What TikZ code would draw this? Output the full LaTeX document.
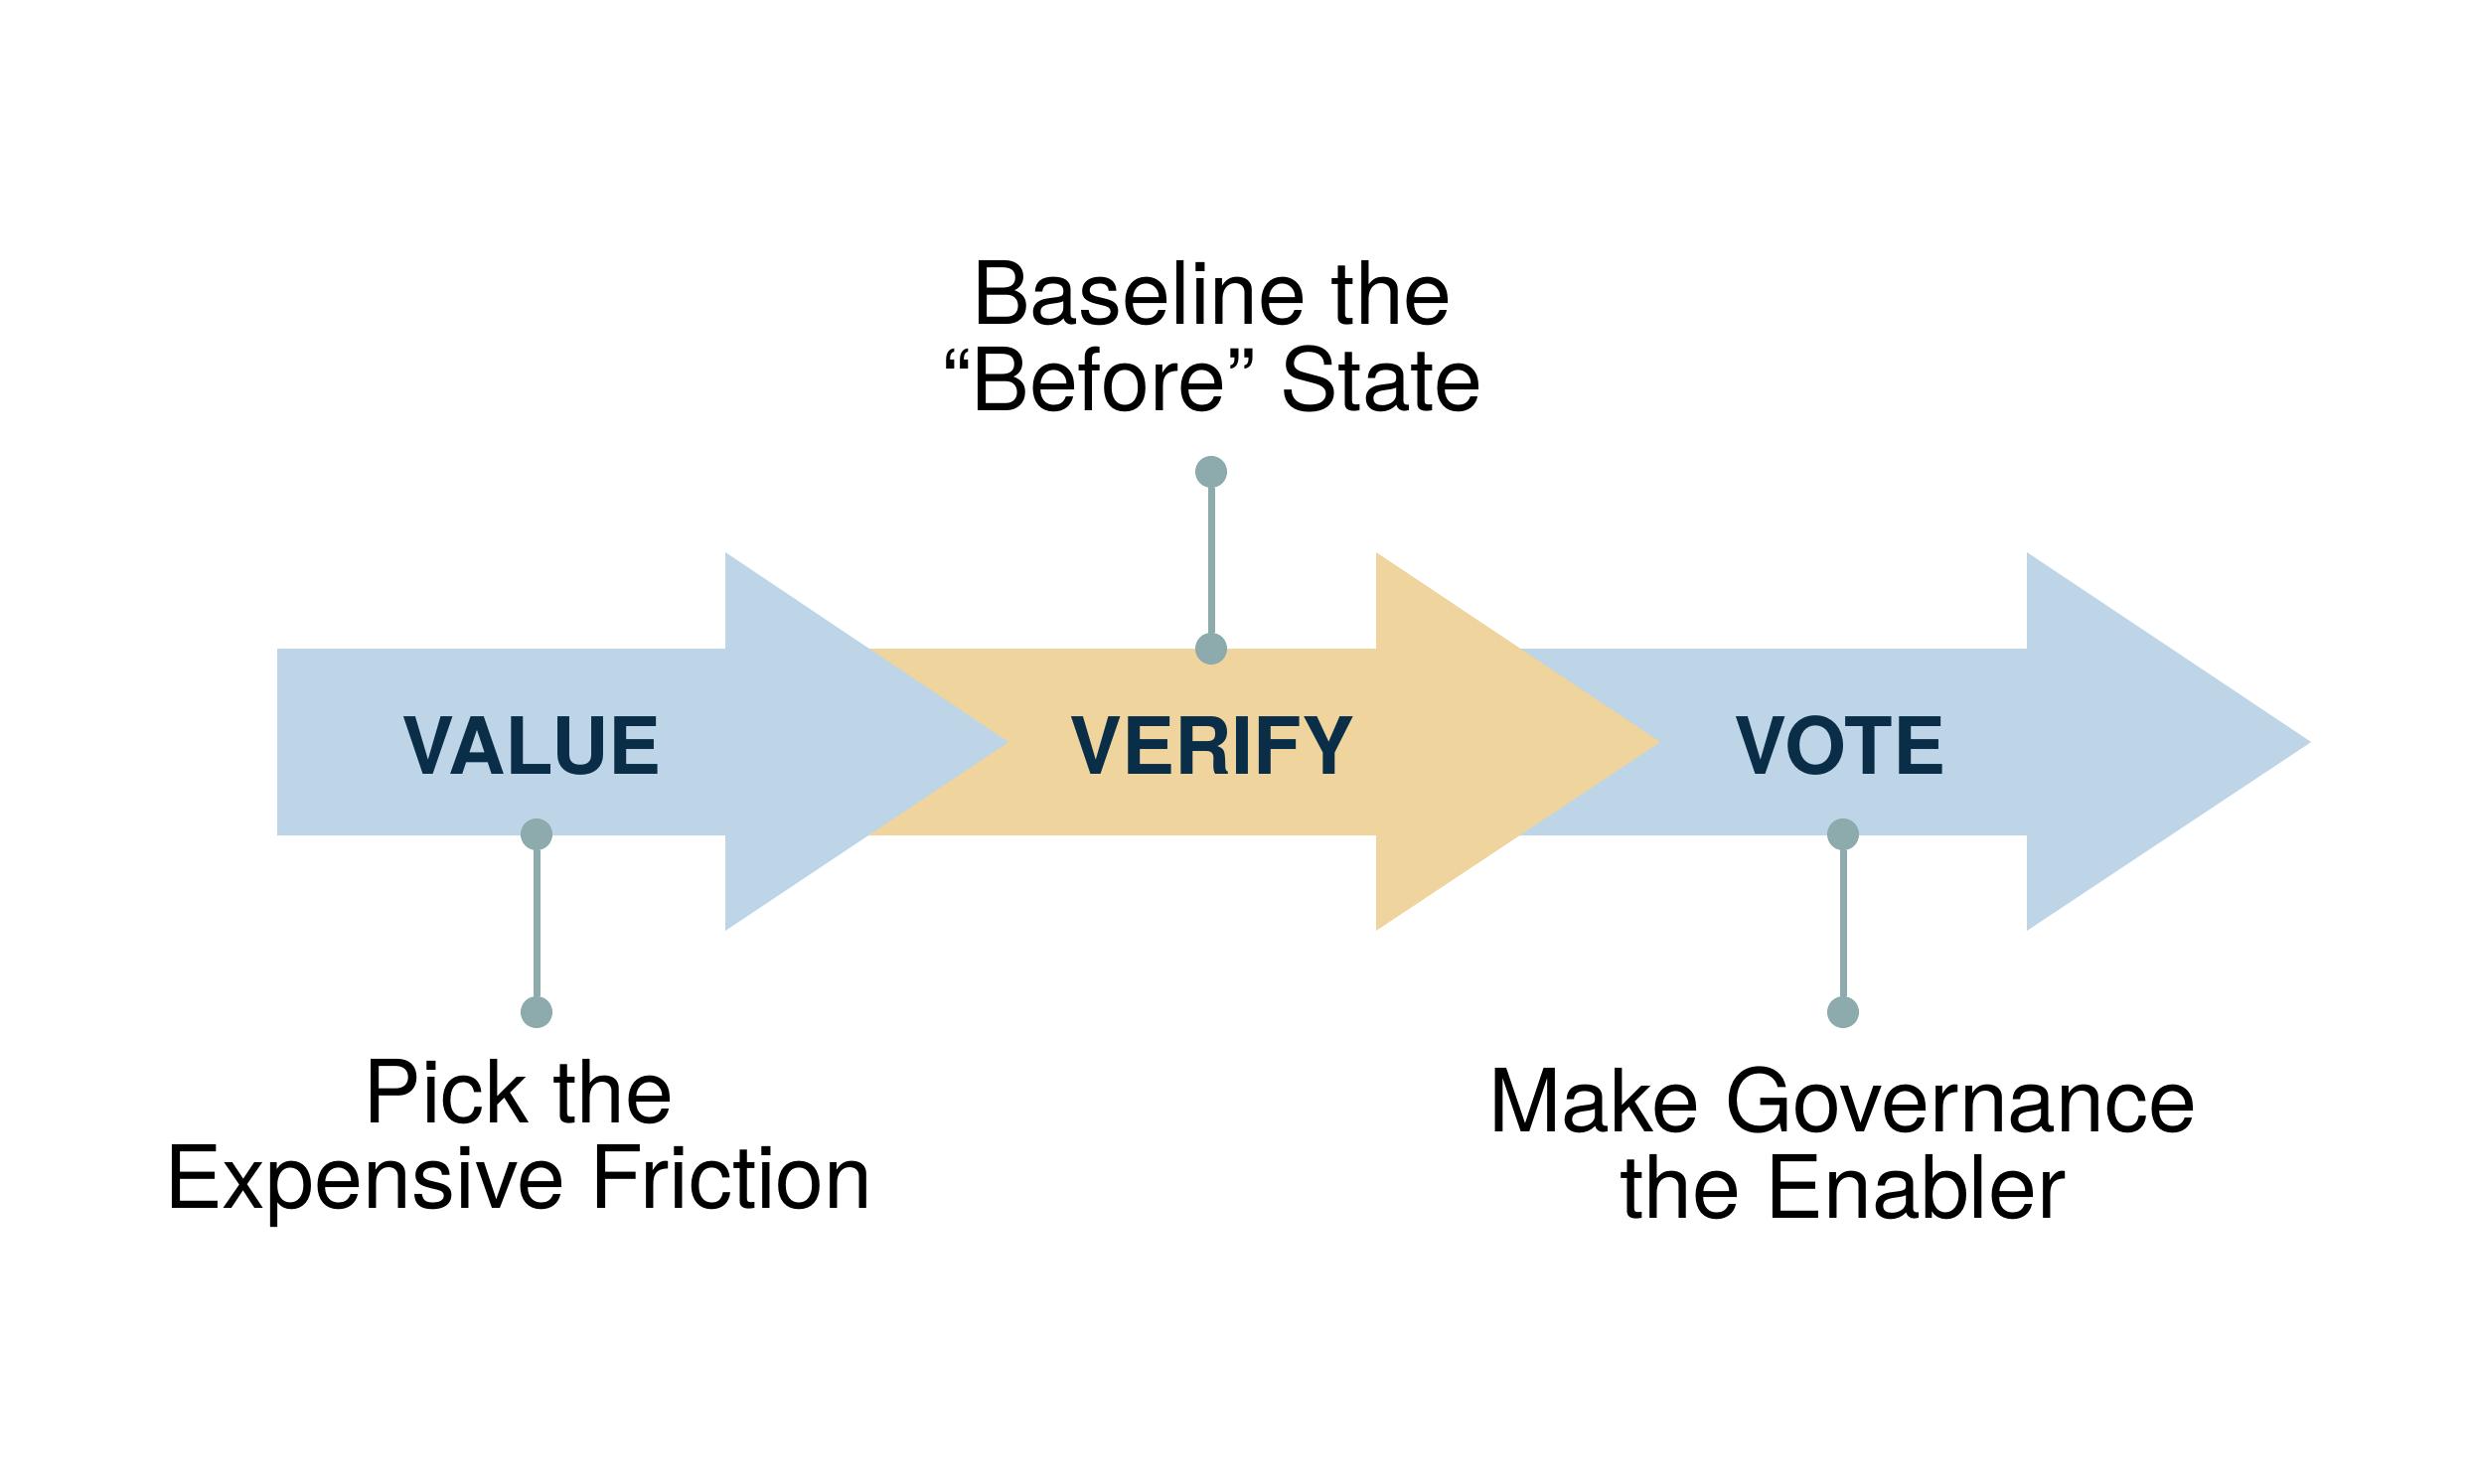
\documentclass[tikz,border=0pt]{standalone}
\usepackage{fontspec}
\setmainfont{TeX Gyre Heros}
\definecolor{arrowblue}{HTML}{BED4E7}
\definecolor{arrowgold}{HTML}{EFD59D}
\definecolor{stemgrey}{HTML}{8DAAAD}
\definecolor{stepnavy}{HTML}{0A2E48}
\tikzset{
  pin dot/.style={circle,fill=stemgrey,inner sep=0pt,outer sep=0pt,minimum size=0.32cm},
  stem/.style={draw=stemgrey,line width=0.07cm},
  steplabel/.style={font=\fontsize{22.6}{24}\selectfont\bfseries,text=stepnavy,anchor=base,inner sep=0pt},
  note/.style={font=\fontsize{25}{24.7}\selectfont,align=center,inner sep=0pt}
}
\begin{document}
\begin{tikzpicture}[x=0.01cm,y=-0.01cm]
\useasboundingbox (0,0) rectangle (2490,1494);
% arrows, drawn right to left so each head lies on the next body
\fill[arrowblue] (1455,653) -- (2040,653) -- (2040,556) -- (2326,747) -- (2040,937) -- (2040,841) -- (1455,841) -- cycle;
\fill[arrowgold] (800,653) -- (1385,653) -- (1385,556) -- (1671,747) -- (1385,937) -- (1385,841) -- (800,841) -- cycle;
\fill[arrowblue] (279,653) -- (730,653) -- (730,556) -- (1015,747) -- (730,937) -- (730,841) -- (279,841) -- cycle;

\draw (535,779) node[steplabel] (value) {VALUE};
\draw (1220,779) node[steplabel] (verify) {VERIFY};
\draw (1852,779) node[steplabel] (vote) {VOTE};

\draw (540,840) node[pin dot] (Va) {};
\draw (540,1019) node[pin dot] (Vb) {};
\draw (1219,475) node[pin dot] (Ra) {};
\draw (1219,653) node[pin dot] (Rb) {};
\draw (1855,840) node[pin dot] (Ta) {};
\draw (1855,1019) node[pin dot] (Tb) {};
\draw[stem] (Va) -- (Vb);
\draw[stem] (Ra) -- (Rb);
\draw[stem] (Ta) -- (Tb);

\draw (522,1151) node[note] (pick) {Pick the\\Expensive Friction};
\draw (1220,339) node[note] (baseline) {Baseline the\\“Before” State};
\draw (1855,1151) node[note] (govern) {Make Governance\\the Enabler};
\end{tikzpicture}
\end{document}
